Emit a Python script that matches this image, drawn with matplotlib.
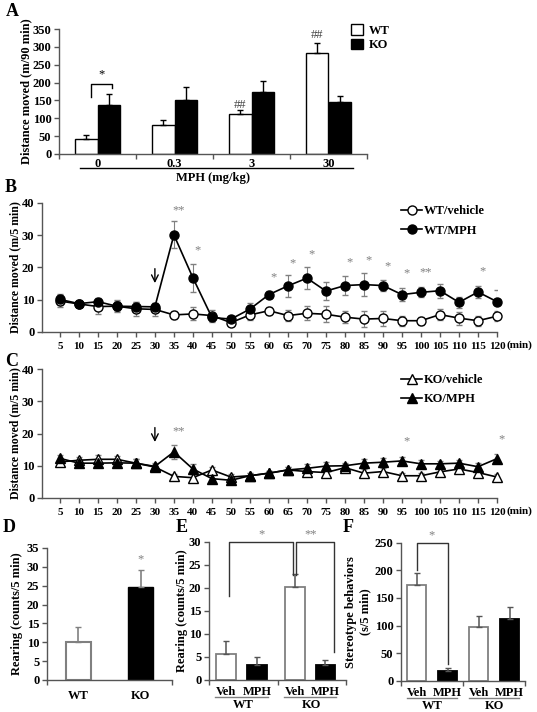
import matplotlib.pyplot as plt
import matplotlib.transforms as mtransforms
from matplotlib.patches import Patch
import numpy as np

plt.rcParams['font.family'] = ['Liberation Serif', 'DejaVu Serif']
plt.rcParams['font.weight'] = 'bold'
plt.rcParams['axes.labelweight'] = 'bold'
plt.rcParams['font.size'] = 9

GRAY = '#808080'
AXC = '#555555'
W, H = 537, 712

# ---------- data ----------
# A : total distance, 90 min
doses = ['0', '0.3', '3', '30']
a_wt = [43, 80, 112, 284]
a_wt_err = [10, 14, 10, 28]
a_ko = [138, 150, 173, 145]
a_ko_err = [30, 37, 32, 17]

# B / C : time course
times = [5, 10, 15, 20, 25, 30, 35, 40, 45, 50, 55, 60, 65, 70, 75, 80,
         85, 90, 95, 100, 105, 110, 115, 120]
wt_veh = [9.6, 8.7, 7.9, 8.0, 7.2, 7.0, 5.3, 5.6, 5.1, 2.9, 5.3, 6.6,
          5.1, 5.8, 5.5, 4.6, 4.0, 4.2, 3.5, 3.5, 5.4, 4.3, 3.5, 4.9]
wt_veh_err = [2.0, 1.0, 2.2, 1.8, 2.2, 2.0, 1.3, 2.0, 1.8, 1.0, 1.5, 1.2,
              1.8, 2.2, 2.5, 1.8, 2.5, 2.2, 1.5, 1.2, 1.8, 2.0, 1.5, 1.5]
wt_mph = [10.1, 8.8, 9.4, 8.0, 7.9, 7.8, 30.1, 16.8, 4.5, 4.0, 7.1, 11.6,
          14.3, 16.7, 12.7, 14.4, 14.7, 14.4, 11.6, 12.3, 12.8, 9.2, 12.4, 9.4]
wt_mph_err = [1.8, 1.0, 1.0, 1.5, 1.5, 1.2, 4.2, 4.3, 1.5, 1.0, 1.8, 1.2,
              3.5, 3.5, 2.8, 3.0, 3.5, 1.8, 2.0, 1.5, 2.2, 1.8, 2.0, 3.5]
ko_veh = [11.2, 11.7, 12.0, 12.0, 10.8, 9.6, 6.7, 6.3, 8.7, 6.5, 6.9, 7.7,
          8.7, 8.2, 7.9, 9.4, 7.7, 8.2, 6.9, 6.9, 8.1, 9.0, 7.9, 6.5]
ko_veh_err = [1.0, 1.0, 1.2, 1.0, 1.2, 1.0, 0.8, 1.0, 1.0, 0.8, 1.0, 0.8,
              1.0, 1.2, 1.2, 1.0, 1.2, 1.0, 1.0, 1.0, 1.2, 1.0, 1.0, 1.0]
ko_mph = [12.3, 10.8, 10.8, 10.9, 10.8, 9.8, 14.3, 9.0, 6.0, 5.5, 6.9, 7.7,
          8.7, 9.2, 9.9, 10.0, 10.8, 11.1, 11.5, 10.6, 10.6, 10.8, 9.7, 12.2]
ko_mph_err = [1.0, 1.0, 1.2, 1.0, 1.2, 1.0, 2.2, 1.5, 1.0, 0.8, 1.0, 0.8,
              1.0, 1.2, 1.2, 1.0, 1.2, 1.2, 1.3, 1.2, 1.0, 1.0, 1.0, 1.3]
b_stars = [(35, 37.8, '**'), (40, 25.4, '*'), (60, 17.1, '*'), (65, 21.3, '*'),
           (70, 24.1, '*'), (80, 21.6, '*'), (85, 22.3, '*'), (90, 20.5, '*'),
           (95, 18.2, '*'), (100, 18.5, '**'), (115, 18.9, '*')]
c_stars = [(35, 20.6, '**'), (95, 17.5, '*'), (120, 18.2, '*')]

# D : rearing, baseline
d_groups = ['WT', 'KO']
d_vals = [10.2, 24.6]
d_err = [3.8, 4.6]

# E : rearing after drug
e_vals = [[5.6, 3.3], [20.1, 3.3]]      # [WT, KO] x [Veh, MPH]
e_err = [[2.9, 1.6], [2.8, 1.0]]

# F : stereotypy
f_vals = [[173, 18], [97, 111]]
f_err = [[23, 4.5], [20, 23]]
treat = ['Veh', 'MPH']


fig = plt.figure(figsize=(W / 100, H / 100), dpi=100)


def px_axes(l, t, r, b):
    return fig.add_axes([l / W, 1 - b / H, (r - l) / W, (b - t) / H])


def style(ax):
    for s in ['top', 'right']:
        ax.spines[s].set_visible(False)
    for s in ['left', 'bottom']:
        ax.spines[s].set_color(AXC)
        ax.spines[s].set_linewidth(1)
    ax.tick_params(direction='out', length=3.5, width=1, color=AXC,
                   labelsize=9, pad=2)


def letter(x, y, s):
    fig.text(x / W, 1 - y / H, s, fontsize=13, fontweight='bold',
             ha='center', va='center')


# ---------- A ----------
ax = px_axes(59, 29, 367, 154)
style(ax)
xa = np.arange(len(doses))
ax.bar(xa - 0.145, a_wt, 0.29, color='white', edgecolor='black', lw=1,
       yerr=[np.zeros(4), a_wt_err], error_kw=dict(ecolor='black', capsize=2.5, elinewidth=1))
ax.bar(xa + 0.145, a_ko, 0.29, color='black', edgecolor='black', lw=1,
       yerr=[np.zeros(4), a_ko_err], error_kw=dict(ecolor='black', capsize=2.5, elinewidth=1))
ax.set_xlim(-0.5, 3.5)
ax.set_ylim(0, 350)
ax.set_yticks(np.arange(0, 351, 50))
ax.set_xticks(np.arange(-0.5, 3.6, 1))
ax.set_xticklabels([])
ax.set_xticks(xa, minor=True)
ax.set_xticklabels(doses, minor=True)
ax.tick_params(axis='x', which='minor', length=0, pad=3)
trA = mtransforms.blended_transform_factory(ax.transData, ax.transAxes)
ax.plot([-0.23, 3.32], [-0.112, -0.112], transform=trA, clip_on=False,
        color='black', lw=1)
ax.text(1.5, -0.19, 'MPH (mg/kg)', transform=trA, ha='center', va='center')
ax.set_ylabel('Distance moved (m/90 min)', fontsize=9)
ax.yaxis.set_label_coords(-0.088, 0.5)
ax.plot([-0.08, -0.08, 0.19, 0.19], [160, 196, 196, 185], color='black', lw=1)
ax.text(0.05, 222, '*', ha='center', va='center', fontweight='normal')
ax.text(1.855, 136, '##', ha='center', va='center', color='#444444', fontweight='normal')
ax.text(2.855, 333, '##', ha='center', va='center', color='#444444', fontweight='normal')
ax.legend(handles=[Patch(facecolor='white', edgecolor='black', label='WT'),
                   Patch(facecolor='black', edgecolor='black', label='KO')],
          loc='upper left', bbox_to_anchor=(351 / W, 1 - 24 / H),
          bbox_transform=fig.transFigure, frameon=False, fontsize=9,
          handlelength=0.95, handleheight=0.95, handletextpad=0.45,
          labelspacing=0.15, borderpad=0, borderaxespad=0)
letter(12, 12, 'A')


# ---------- B / C ----------
def time_panel(top, bottom, s1, e1, s2, e2, mk, labels, stars, arrow, leg_y):
    ax = px_axes(42, top, 497, bottom)
    style(ax)
    ax.errorbar(times, s1, yerr=e1, fmt='none', ecolor=GRAY, elinewidth=0.8,
                capsize=2, zorder=1)
    ax.errorbar(times, s2, yerr=e2, fmt='none', ecolor=GRAY, elinewidth=0.8,
                capsize=2, zorder=1)
    ax.plot(times, s1, '-', marker=mk, color='black', mfc='white', mec='black',
            ms=6.5, mew=1, lw=1.2, label=labels[0], zorder=3, clip_on=False)
    ax.plot(times, s2, '-', marker=mk, color='black', mfc='black', mec='black',
            ms=6.5, mew=1, lw=1.2, label=labels[1], zorder=4, clip_on=False)
    ax.set_xlim(0.3, 120)
    ax.set_ylim(0, 40)
    ax.set_yticks([0, 10, 20, 30, 40])
    ax.set_xticks(times)
    ax.set_xticklabels([str(t) for t in times], fontsize=8)
    ax.tick_params(axis='x', pad=4)
    tr = mtransforms.blended_transform_factory(ax.transData, ax.transAxes)
    ax.text(122.6, -0.105, '(min)', transform=tr, ha='left', va='center', fontsize=8)
    ax.set_ylabel('Distance moved (m/5 min)', fontsize=8.5)
    ax.yaxis.set_label_coords(-0.046, 0.5)
    for t, y, s in stars:
        ax.text(t + 1.2, y, s, ha='center', va='center', color=GRAY,
                fontsize=9, fontweight='normal')
    ax.annotate('', xy=(30, arrow[1]), xytext=(30, arrow[0]),
                arrowprops=dict(arrowstyle='->', color='black', lw=1,
                                mutation_scale=12))
    ax.legend(loc='upper left', bbox_to_anchor=(401 / W, 1 - leg_y / H),
              bbox_transform=fig.transFigure, frameon=False, fontsize=9,
              handlelength=1.7, handletextpad=0.1, labelspacing=0.6,
              borderpad=0, borderaxespad=0, numpoints=1)
    return ax


time_panel(203, 332, wt_veh, wt_veh_err, wt_mph, wt_mph_err, 'o',
           ['WT/vehicle', 'WT/MPH'], b_stars, (20.5, 14.3), 205)
letter(11, 187, 'B')
time_panel(369, 498, ko_veh, ko_veh_err, ko_mph, ko_mph_err, '^',
           ['KO/vehicle', 'KO/MPH'], c_stars, (22.7, 16.5), 374)
letter(12, 361, 'C')

# ---------- D ----------
ax = px_axes(47, 548, 172, 680)
style(ax)
xd = np.array([0.5, 1.5])
ax.bar(xd[0], d_vals[0], 0.4, color='white', edgecolor=GRAY, lw=1.5,
       yerr=[[0], [d_err[0]]], error_kw=dict(ecolor=GRAY, capsize=2.5, elinewidth=1.2))
ax.bar(xd[1], d_vals[1], 0.4, color='black', edgecolor='black', lw=1,
       yerr=[[0], [d_err[1]]], error_kw=dict(ecolor=GRAY, capsize=2.5, elinewidth=1.2))
ax.set_xlim(0, 2)
ax.set_ylim(0, 35)
ax.set_yticks(np.arange(0, 36, 5))
ax.set_xticks([0, 2])
ax.set_xticklabels([])
ax.set_xticks(xd, minor=True)
ax.set_xticklabels(d_groups, minor=True)
ax.tick_params(axis='x', which='minor', length=0, pad=7)
ax.text(xd[1], 32.1, '*', ha='center', va='center', color=GRAY, fontweight='normal')
ax.set_ylabel('Rearing (counts/5 min)', fontsize=9)
ax.yaxis.set_label_coords(-0.19, 0.5)
letter(9, 528, 'D')


# ---------- E / F ----------
def drug_panel(l, t, r, b, vals, errs, ymax, ystep, offs, width):
    ax = px_axes(l, t, r, b)
    style(ax)
    tr = mtransforms.blended_transform_factory(ax.transData, ax.transAxes)
    for g, name in enumerate(d_groups):
        for k in range(2):
            x = g + offs[k]
            fill = 'white' if k == 0 else 'black'
            edge = GRAY if k == 0 else 'black'
            ax.bar(x, vals[g][k], width, color=fill, edgecolor=edge, lw=1.3,
                   yerr=[[0], [errs[g][k]]],
                   error_kw=dict(ecolor='#555555', capsize=2.5, elinewidth=1.1))
            ax.text(x, -0.087, treat[k], transform=tr, ha='center', va='center',
                    fontsize=9)
        ax.plot([g + offs[0] - 0.16, g + offs[1] + 0.16], [-0.125, -0.125],
                transform=tr, clip_on=False, color=GRAY, lw=1)
        ax.text(g, -0.18, name, transform=tr, ha='center', va='center', fontsize=9)
    ax.set_xlim(-0.5, 1.5)
    ax.set_ylim(0, ymax)
    ax.set_yticks(np.arange(0, ymax + 1, ystep))
    ax.set_xticks([-0.5, 0.5, 1.5])
    ax.set_xticklabels([])
    return ax


ax = drug_panel(209, 541.7, 346, 680, e_vals, e_err, 30, 5, (-0.25, 0.2), 0.29)
ax.set_ylabel('Rearing (counts/5 min)', fontsize=9)
ax.yaxis.set_label_coords(-0.15, 0.5)
ax.plot([-0.21, -0.21, 0.73, 0.73], [18.2, 30, 30, 22.8], color='#333333',
        lw=1, clip_on=False)
ax.plot([0.77, 0.77, 1.32, 1.32], [22.8, 30, 30, 6.1], color='#333333',
        lw=1, clip_on=False)
ax.text(0.26, 31.5, '*', ha='center', va='center', color=GRAY, fontweight='normal')
ax.text(0.99, 31.5, '**', ha='center', va='center', color=GRAY, fontweight='normal')
letter(182, 528, 'E')

ax = drug_panel(401, 542.7, 525, 680.7, f_vals, f_err, 250, 50, (-0.25, 0.25), 0.3)
ax.set_ylabel('Stereotype behaviors\n(s/5 min)', fontsize=9, linespacing=1.3)
ax.yaxis.set_label_coords(-0.24, 0.5)
ax.plot([-0.25, -0.25, 0.25, 0.25], [200, 250, 250, 30], color='#333333',
        lw=1, clip_on=False)
ax.text(0.0, 264, '*', ha='center', va='center', color=GRAY, fontweight='normal')
letter(348, 528, 'F')

plt.savefig('out.png', dpi=100)
